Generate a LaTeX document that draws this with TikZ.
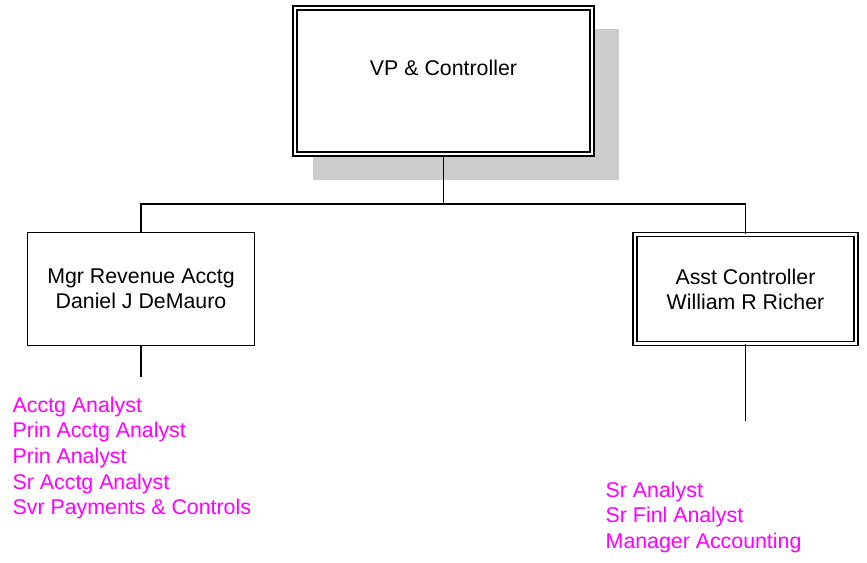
\documentclass[tikz,border=0pt]{standalone}
\usepackage{fontspec}
\setmainfont{Liberation Sans}
\usetikzlibrary{shadows}
\definecolor{staffpink}{RGB}{255,0,255}

\begin{document}
\begin{tikzpicture}[x=0.75pt, y=-0.75pt, line width=1.1pt,
    orgbox/.style={draw, fill=white, align=center,
      font=\fontsize{16}{18.75}\selectfont, inner sep=0pt},
    doublebox/.style={orgbox, double, double distance=2.2pt, line width=1.1pt},
    wire/.style={line width=1.1pt},
    listitem/.style={anchor=base west, inner sep=0pt, text=staffpink,
      font=\fontsize{16}{18}\selectfont}]
  % page size
  \useasboundingbox (0,0) rectangle (867,563);

  % boxes
  \node[doublebox, minimum width=222.75pt, minimum height=109.5pt,
    text height=12pt, text depth=20pt,
    drop shadow={shadow scale=1.03, shadow xshift=16.5pt, shadow yshift=-17.25pt,
      fill=black!20, opacity=1}]
    (vp) at (443.5,81) {VP \& Controller};
  \node[orgbox, minimum width=170pt, minimum height=84.5pt]
    (mgr) at (141,289) {Mgr Revenue Acctg\\Daniel J DeMauro};
  \node[doublebox, minimum width=165.75pt, minimum height=81.75pt]
    (asst) at (745.5,289) {Asst Controller\\William R Richer};

  % connectors
  \coordinate (bus) at (443.5,204);
  \draw[wire] (vp.south) -- (bus);
  \draw[wire] (mgr.north) |- (bus) -| (asst.north);

  \coordinate (mgrtail) at (141,377);
  \coordinate (assttail) at (745.5,421);
  \draw[wire] (mgr.south) -- (mgrtail);
  \draw[wire] (asst.south) -- (assttail);

  % staff lists
  \foreach \item [count=\i] in {Acctg Analyst, Prin Acctg Analyst, Prin Analyst,
      Sr Acctg Analyst, Svr Payments \& Controls}
    \node[listitem] (rev-\i) at (12,{412+25.7*(\i-1)}) {\item};
  \foreach \item [count=\i] in {Sr Analyst, Sr Finl Analyst, Manager Accounting}
    \node[listitem] (ctl-\i) at (605,{497+25.7*(\i-1)}) {\item};

\end{tikzpicture}
\end{document}
